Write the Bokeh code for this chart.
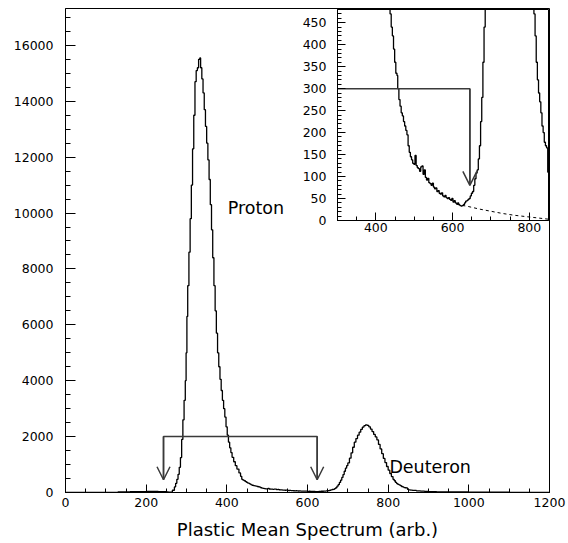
from bokeh.plotting import figure
from bokeh.models import FixedTicker, Arrow, OpenHead, Range1d
from bokeh.layouts import column
from bokeh.embed import file_html
from bokeh.resources import INLINE
from bokeh.core.properties import value

# ---------------- data ----------------
# histogram: bin left edges and counts (variable bin widths)
bin_left = [0, 100, 130, 160, 200, 230, 250, 255, 260, 265, 270, 273, 276, 279, 282, 285, 288, 291,
            294, 297, 299, 301, 303, 306, 309, 312, 315, 318, 321, 324, 327, 330, 333, 335, 338,
            341, 344, 347, 350, 353, 356, 359, 362, 365, 368, 371, 374, 377, 380, 383, 386, 389,
            392, 395, 398, 401, 404, 407, 410, 413, 417, 421, 425, 430, 434, 437, 440, 443, 446,
            449, 452, 455, 457, 460, 463, 466, 469, 472, 475, 478, 481, 484, 487, 490, 493, 496,
            499, 502, 505, 508, 511, 514, 517, 520, 523, 526, 529, 532, 535, 538, 541, 544, 547,
            550, 553, 556, 559, 562, 565, 568, 571, 574, 577, 580, 583, 586, 589, 592, 595, 598,
            601, 604, 607, 610, 613, 616, 619, 622, 625, 628, 631, 634, 637, 640, 643, 646, 649,
            652, 655, 658, 661, 664, 667, 670, 673, 676, 679, 682, 685, 688, 691, 694, 697, 700,
            704, 708, 712, 716, 720, 724, 728, 732, 736, 740, 744, 748, 752, 756, 760, 764, 768,
            772, 776, 780, 784, 788, 792, 796, 800, 804, 808, 812, 815, 818, 821, 824, 827, 830,
            833, 836, 839, 842, 845, 848, 851, 855, 860, 870, 880, 890, 900, 920, 950, 1000, 1050,
            1100, 1150, 1200]
bin_counts = [0, 5, 20, 30, 35, 30, 20, 15, 10, 80, 200, 330, 470, 650, 900, 1250, 1900, 2600,
              3300, 4000, 5000, 6300, 7400, 8600, 9800, 11000, 12300, 13500, 14700, 15100, 15200,
              15500, 15550, 15200, 14800, 14300, 13700, 13100, 12500, 11900, 11200, 10300, 9400,
              8400, 7400, 6500, 5700, 5000, 4500, 4050, 3650, 3300, 3000, 2700, 2350, 2050, 1800,
              1600, 1430, 1260, 1100, 960, 840, 700, 580, 470, 440, 420, 390, 360, 335, 330, 300,
              275, 260, 245, 238, 225, 215, 205, 195, 170, 155, 145, 138, 130, 128, 148, 125, 120,
              118, 112, 122, 124, 105, 115, 98, 92, 96, 86, 84, 80, 85, 76, 72, 74, 66, 68, 62, 60,
              63, 56, 54, 57, 52, 50, 52, 48, 46, 50, 42, 45, 40, 38, 40, 36, 34, 33, 34, 36, 40,
              44, 45, 48, 50, 56, 62, 66, 80, 95, 108, 115, 140, 170, 225, 280, 360, 440, 540, 640,
              760, 870, 960, 1060, 1230, 1420, 1620, 1800, 1930, 2050, 2160, 2260, 2340, 2390,
              2420, 2400, 2350, 2270, 2180, 2080, 1990, 1880, 1720, 1560, 1390, 1220, 1070, 930,
              800, 680, 570, 470, 420, 360, 320, 290, 270, 245, 215, 200, 178, 170, 165, 110, 95,
              85, 75, 60, 50, 40, 32, 25, 20, 14, 10, 6, 3, 0]

# dashed fit curve shown in the inset
fit_x = [610, 640, 670, 700, 730, 760, 790, 820, 850]
fit_y = [37, 32, 26, 21, 16, 12, 9, 6, 3]

# cut markers
cut_low, cut_high, cut_level, cut_tip = 243, 624, 2000, 455
inset_cut_x, inset_cut_level, inset_cut_tip = 645, 300, 80

# labels
label_text = ["Proton", "Deuteron"]
label_x = [402, 803]
label_y = [10166, 930]

# ticks
x_major = [0, 200, 400, 600, 800, 1000, 1200]
x_minor = list(range(0, 1201, 50))
y_major = [0, 2000, 4000, 6000, 8000, 10000, 12000, 14000, 16000]
y_minor = list(range(0, 17300, 500))
ix_major = [400, 600, 800]
ix_minor = list(range(300, 851, 50))
iy_major = [0, 50, 100, 150, 200, 250, 300, 350, 400, 450]
iy_minor = list(range(0, 481, 10))

FONT = "DejaVu Sans"


def style_axes(fig, xt, yt, xlen, ylen):
    fig.xgrid.grid_line_color = None
    fig.ygrid.grid_line_color = None
    fig.outline_line_color = "black"
    fig.outline_line_width = 1
    for ax, tk, ln in ((fig.xaxis, xt, xlen), (fig.yaxis, yt, ylen)):
        ax.ticker = FixedTicker(ticks=tk[0], minor_ticks=tk[1])
        ax.axis_line_color = "black"
        ax.major_tick_line_color = "black"
        ax.minor_tick_line_color = "black"
        ax.major_tick_in = ln[0]
        ax.major_tick_out = 0
        ax.minor_tick_in = ln[1]
        ax.minor_tick_out = 0
        ax.major_label_text_font = FONT
        ax.major_label_text_font_size = "12.5px"
        ax.major_label_text_color = "black"


# ---------------- main plot ----------------
p = figure(width=568, height=543, x_range=Range1d(0, 1200), y_range=Range1d(0, 17320),
           output_backend="svg", toolbar_location=None,
           min_border_left=65, min_border_right=19, min_border_top=8, min_border_bottom=51)
style_axes(p, (x_major, x_minor), (y_major, y_minor), (8, 4), (10, 5))
p.xaxis.major_label_standoff = 5
p.yaxis.major_label_standoff = 12
p.xaxis.axis_label = "Plastic Mean Spectrum (arb.)"
p.xaxis.axis_label_text_font = FONT
p.xaxis.axis_label_text_font_size = "18px"
p.xaxis.axis_label_text_font_style = "normal"
p.xaxis.axis_label_text_color = "black"
p.xaxis.axis_label_standoff = 9

p.step(bin_left, bin_counts, mode="after", line_color="black", line_width=1.3)

cut_col = "#3a3a3a"
p.line([cut_low, cut_low, cut_high, cut_high], [cut_tip, cut_level, cut_level, cut_tip],
       line_color=cut_col, line_width=1.5)
for cx in (cut_low, cut_high):
    p.add_layout(Arrow(x_start=cx, y_start=cut_level, x_end=cx, y_end=cut_tip,
                       line_color=cut_col, line_width=1.5,
                       end=OpenHead(size=13, line_color=cut_col, line_width=1.5)))

p.text(label_x, label_y, text=label_text, text_font=value(FONT), text_font_size="17.5px",
       text_baseline="middle", text_align="left", text_color="black")

# ---------------- inset ----------------
# (column layouts align plot borders, so the inset uses the same side borders as the main plot)
inset = figure(frame_width=211, frame_height=211, x_range=Range1d(300, 850), y_range=Range1d(0, 480),
               output_backend="svg", toolbar_location=None,
               min_border_left=65, min_border_right=19, min_border_top=9, min_border_bottom=25)
style_axes(inset, (ix_major, ix_minor), (iy_major, iy_minor), (8, 4), (8, 4))
inset.xaxis.major_label_standoff = 2
inset.yaxis.major_label_standoff = 11
inset.background_fill_color = None
inset.border_fill_color = None

inset.step(bin_left, bin_counts, mode="after", line_color="black", line_width=1.3)
inset.line(fit_x, fit_y, line_color="black", line_width=1, line_dash="3 3")
inset.line([300, inset_cut_x, inset_cut_x], [inset_cut_level, inset_cut_level, inset_cut_tip],
           line_color=cut_col, line_width=1.5)
inset.add_layout(Arrow(x_start=inset_cut_x, y_start=inset_cut_level, x_end=inset_cut_x,
                       y_end=inset_cut_tip, line_color=cut_col, line_width=1.5,
                       end=OpenHead(size=14, line_color=cut_col, line_width=1.5)))

inset.margin = (-543, 0, 298, 272)

layout = column(p, inset)
open("out.html", "w").write(file_html(layout, INLINE))
